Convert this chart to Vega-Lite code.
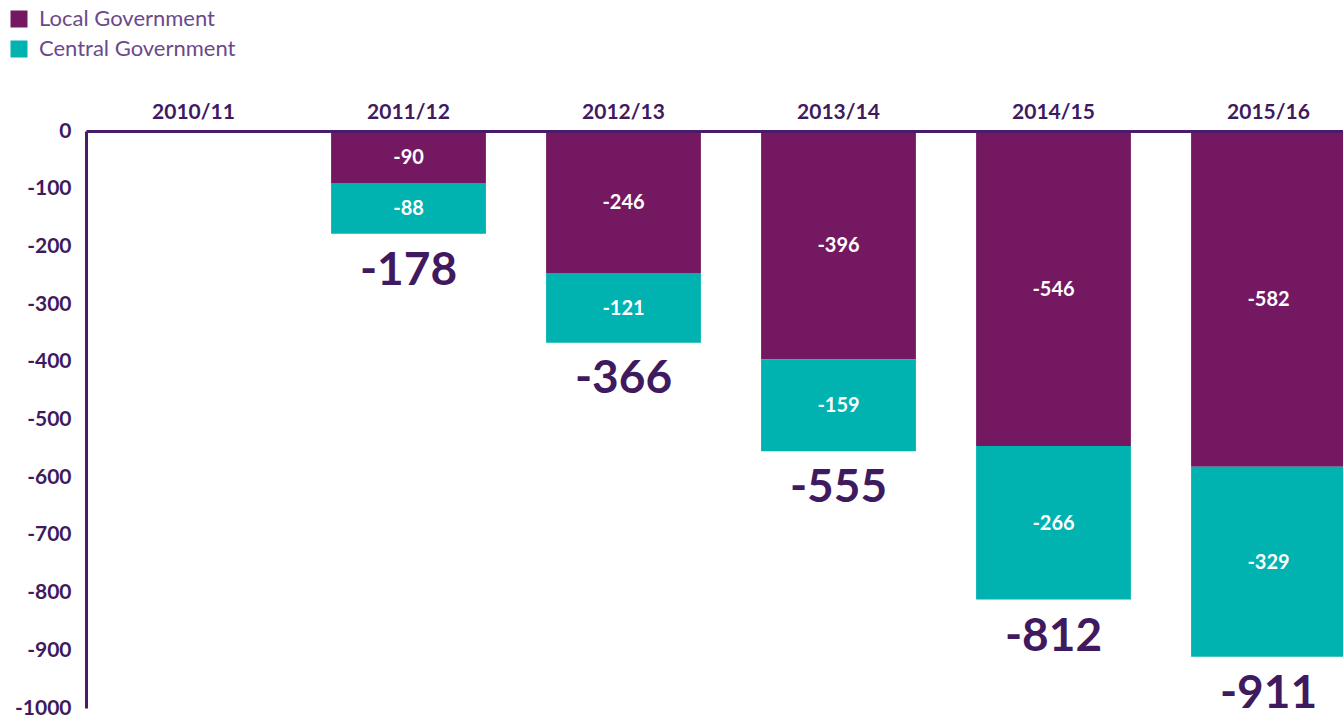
{
  "$schema": "https://vega.github.io/schema/vega-lite/v6.json",
  "width": 1290,
  "height": 577,
  "autosize": {"type": "none"},
  "padding": {"left": 86, "top": 131, "right": 0, "bottom": 9},
  "background": "white",
  "config": {
    "view": {"stroke": null},
    "font": "Lato",
    "locale": {"number": {"decimal": ".", "thousands": ",", "grouping": [3], "currency": ["$", ""], "minus": "-"}}
  },
  "datasets": {
    "bars": [
      {"year": "2011/12", "gov": "Local Government", "ord": 1, "value": -90},
      {"year": "2011/12", "gov": "Central Government", "ord": 2, "value": -88},
      {"year": "2012/13", "gov": "Local Government", "ord": 1, "value": -246},
      {"year": "2012/13", "gov": "Central Government", "ord": 2, "value": -121},
      {"year": "2013/14", "gov": "Local Government", "ord": 1, "value": -396},
      {"year": "2013/14", "gov": "Central Government", "ord": 2, "value": -159},
      {"year": "2014/15", "gov": "Local Government", "ord": 1, "value": -546},
      {"year": "2014/15", "gov": "Central Government", "ord": 2, "value": -266},
      {"year": "2015/16", "gov": "Local Government", "ord": 1, "value": -582},
      {"year": "2015/16", "gov": "Central Government", "ord": 2, "value": -329}
    ],
    "totals": [
      {"year": "2011/12", "total": -178},
      {"year": "2012/13", "total": -366},
      {"year": "2013/14", "total": -555},
      {"year": "2014/15", "total": -812},
      {"year": "2015/16", "total": -911}
    ]
  },
  "layer": [
    {
      "data": {"name": "bars"},
      "transform": [
        {"stack": "value", "groupby": ["year"], "sort": [{"field": "ord", "order": "ascending"}], "as": ["v0", "v1"]},
        {"calculate": "(datum.v0 + datum.v1) / 2", "as": "mid"}
      ],
      "layer": [
        {
          "mark": {"type": "rect"},
          "encoding": {
            "x": {
              "field": "year", "type": "nominal",
              "scale": {"domain": ["2010/11", "2011/12", "2012/13", "2013/14", "2014/15", "2015/16"], "paddingInner": 0.28, "paddingOuter": 0.14},
              "axis": {"orient": "top", "title": null, "labelAngle": 0, "labelFontSize": 21, "labelFontWeight": "bold", "labelColor": "#3f1a5f", "labelPadding": 9, "ticks": false, "domainColor": "#4a1a6b", "domainWidth": 3, "grid": false}
            },
            "y": {
              "field": "v0", "type": "quantitative",
              "scale": {"domain": [-1000, 0], "nice": false},
              "axis": {"title": null, "values": [0, -100, -200, -300, -400, -500, -600, -700, -800, -900, -1000], "format": "d", "labelFontSize": 21, "labelFontWeight": "bold", "labelColor": "#3f1a5f", "labelPadding": 15, "ticks": false, "domainColor": "#4a1a6b", "domainWidth": 3, "grid": false}
            },
            "y2": {"field": "v1"},
            "color": {
              "field": "gov", "type": "nominal",
              "scale": {"domain": ["Local Government", "Central Government"], "range": ["#741862", "#00b2b0"]},
              "legend": {"title": null, "orient": "none", "legendX": -78, "legendY": -123, "symbolType": "square", "symbolSize": 289, "symbolStrokeWidth": 0, "symbolOpacity": 1, "labelFontSize": 22, "labelColor": "#6a4a8a", "labelFont": "Lato", "labelLimit": 0, "rowPadding": 8, "labelOffset": 9}
            }
          }
        },
        {
          "mark": {"type": "text", "color": "white", "fontSize": 20, "fontWeight": "bold", "baseline": "middle", "dy": 1},
          "encoding": {
            "x": {"field": "year", "type": "nominal"},
            "y": {"field": "mid", "type": "quantitative"},
            "text": {"field": "value", "type": "quantitative", "format": "d"}
          }
        }
      ]
    },
    {
      "data": {"name": "totals"},
      "mark": {"type": "text", "color": "#3f1a5f", "fontSize": 46, "fontWeight": "bold", "baseline": "top", "dy": 15},
      "encoding": {
        "x": {"field": "year", "type": "nominal"},
        "y": {"field": "total", "type": "quantitative"},
        "text": {"field": "total", "type": "quantitative", "format": "d"}
      }
    }
  ]
}
